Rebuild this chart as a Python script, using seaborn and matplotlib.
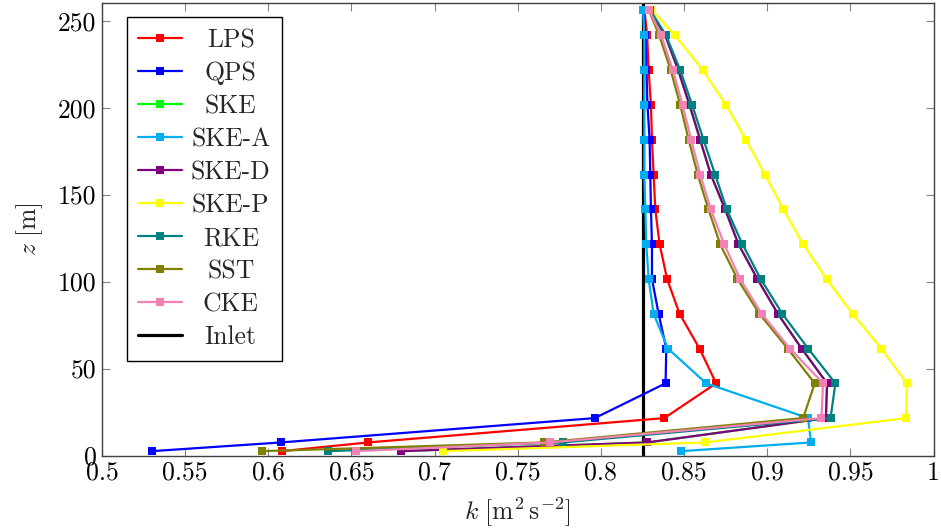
import matplotlib
matplotlib.use("Agg")
import matplotlib.pyplot as plt
import seaborn as sns
import pandas as pd
from matplotlib.lines import Line2D
from matplotlib.transforms import Bbox

# ---------------- data ----------------
z = [2.5, 7.5, 21.5, 41.5, 61.5, 81.5, 101.5, 121.5, 141.5, 161.5, 181.5, 201.5, 221.5, 241.5, 256.0]

k_lps = [0.6081, 0.6599, 0.8381, 0.8693, 0.8593, 0.8473, 0.8398, 0.8353, 0.8327, 0.8317, 0.8307, 0.8301, 0.8287, 0.8278, 0.8262]
k_qps = [0.5300, 0.6075, 0.7963, 0.8389, 0.8393, 0.8347, 0.8307, 0.8307, 0.8301, 0.8297, 0.8293, 0.8280, 0.8274, 0.8268, 0.8256]
k_ske = [0.6799, 0.8279, 0.9353, 0.9360, 0.9207, 0.9064, 0.8941, 0.8827, 0.8747, 0.8661, 0.8597, 0.8533, 0.8465, 0.8387, 0.8291]
k_skea = [0.8483, 0.9263, 0.9246, 0.8633, 0.8403, 0.8317, 0.8287, 0.8273, 0.8267, 0.8261, 0.8261, 0.8261, 0.8261, 0.8261, 0.8254]
k_sked = [0.6799, 0.8279, 0.9353, 0.9360, 0.9207, 0.9064, 0.8941, 0.8827, 0.8747, 0.8661, 0.8597, 0.8533, 0.8465, 0.8387, 0.8291]
k_skep = [0.7052, 0.8627, 0.9836, 0.9840, 0.9686, 0.9513, 0.9357, 0.9216, 0.9097, 0.8987, 0.8873, 0.8753, 0.8613, 0.8447, 0.8307]
k_rke = [0.6359, 0.7772, 0.9381, 0.9410, 0.9246, 0.9091, 0.8961, 0.8851, 0.8757, 0.8687, 0.8617, 0.8549, 0.8477, 0.8392, 0.8297]
k_sst = [0.5965, 0.7658, 0.9216, 0.9286, 0.9123, 0.8953, 0.8821, 0.8717, 0.8647, 0.8582, 0.8528, 0.8477, 0.8420, 0.8351, 0.8288]
k_cke = [0.6529, 0.7692, 0.9326, 0.9336, 0.9137, 0.8967, 0.8837, 0.8741, 0.8661, 0.8597, 0.8543, 0.8491, 0.8433, 0.8363, 0.8291]

inlet_k = [0.8255, 0.8255]
inlet_z = [0.0, 260.0]

series_names = ["LPS", "QPS", "SKE", "SKE-A", "SKE-D", "SKE-P", "RKE", "SST", "CKE"]
series_values = [k_lps, k_qps, k_ske, k_skea, k_sked, k_skep, k_rke, k_sst, k_cke]
series_colors = ["#ff0000", "#0000ff", "#00ff00", "#00aeef", "#800080", "#ffff00", "#008080", "#808000", "#f282b4"]

xticks = [0.5, 0.55, 0.6, 0.65, 0.7, 0.75, 0.8, 0.85, 0.9, 0.95, 1.0]
xtick_labels = ["0.5", "0.55", "0.6", "0.65", "0.7", "0.75", "0.8", "0.85", "0.9", "0.95", "1"]
yticks = [0, 50, 100, 150, 200, 250]
ytick_labels = ["0", "50", "100", "150", "200", "250"]

# ---------------- style ----------------
sns.set_theme(style="white")
plt.rcParams["font.family"] = ["cmr10", "DejaVu Serif"]
plt.rcParams["mathtext.fontset"] = "cm"
plt.rcParams["axes.unicode_minus"] = False

FS = 18.5

fig = plt.figure(figsize=(9.41, 5.32), dpi=100)
ax = fig.add_axes([102 / 941, 1 - 455.5 / 532, (933.5 - 102) / 941, (455.5 - 3.3) / 532])

rows = []
for name, vals in zip(series_names, series_values):
    for zz, kk in zip(z, vals):
        rows.append({"series": name, "k": kk, "z": zz})
df = pd.DataFrame(rows)

# Inlet line (drawn underneath)
ax.plot(inlet_k, inlet_z, color="black", lw=2.3, zorder=1.5, label="_nolegend_")

sns.lineplot(data=df, x="k", y="z", hue="series", hue_order=series_names,
             palette=dict(zip(series_names, series_colors)), sort=False,
             estimator=None, marker="s", markersize=5.5, markeredgewidth=0,
             linewidth=1.6, ax=ax, legend=False, zorder=2)

ax.set_xlim(0.5, 1.0)
ax.set_ylim(0, 260)
ax.set_xticks(xticks)
ax.set_xticklabels(xtick_labels)
ax.set_yticks(yticks)
ax.set_yticklabels(ytick_labels)
ax.tick_params(direction="in", length=6, width=0.8, color="#808080",
               labelsize=FS, top=True, right=True, bottom=True, left=True,
               labelcolor="black", pad=4)
for s in ax.spines.values():
    s.set_color("#404040")
    s.set_linewidth(1.0)

ax.set_xlabel(r"$k\ [\mathrm{m}^2\,\mathrm{s}^{-2}]$", fontsize=FS, labelpad=8)
ax.set_ylabel(r"$z\ [\mathrm{m}]$", fontsize=FS, labelpad=9)

# legend
handles = [Line2D([0], [0], color=c, lw=1.6, marker="s", markersize=5.5, markeredgewidth=0)
           for c in series_colors]
handles.append(Line2D([0], [0], color="black", lw=2.3))
labels = series_names + ["Inlet"]
leg = ax.legend(handles, labels, loc="upper left", bbox_to_anchor=(0.0296, 0.970),
                borderaxespad=0, fontsize=FS, frameon=True, fancybox=False,
                edgecolor="black", framealpha=1, handlelength=1.7, handletextpad=0.35,
                labelspacing=0.36, borderpad=0.45)
leg.get_frame().set_linewidth(1.0)

# centre legend texts within their column (pgfplots style)
text_areas = []
for col in leg._legend_handle_box.get_children():
    for item in col.get_children():
        text_areas.append(item.get_children()[1])
origs = [ta.get_bbox for ta in text_areas]


def make_bbox(orig):
    def _bbox(renderer):
        bb = orig(renderer)
        W = max(o(renderer).width for o in origs)
        return Bbox.from_bounds(bb.x0 - (W - bb.width) / 2, bb.y0, W, bb.height)
    return _bbox


for ta, o in zip(text_areas, origs):
    ta.get_bbox = make_bbox(o)

fig.savefig("out.png", dpi=100)
